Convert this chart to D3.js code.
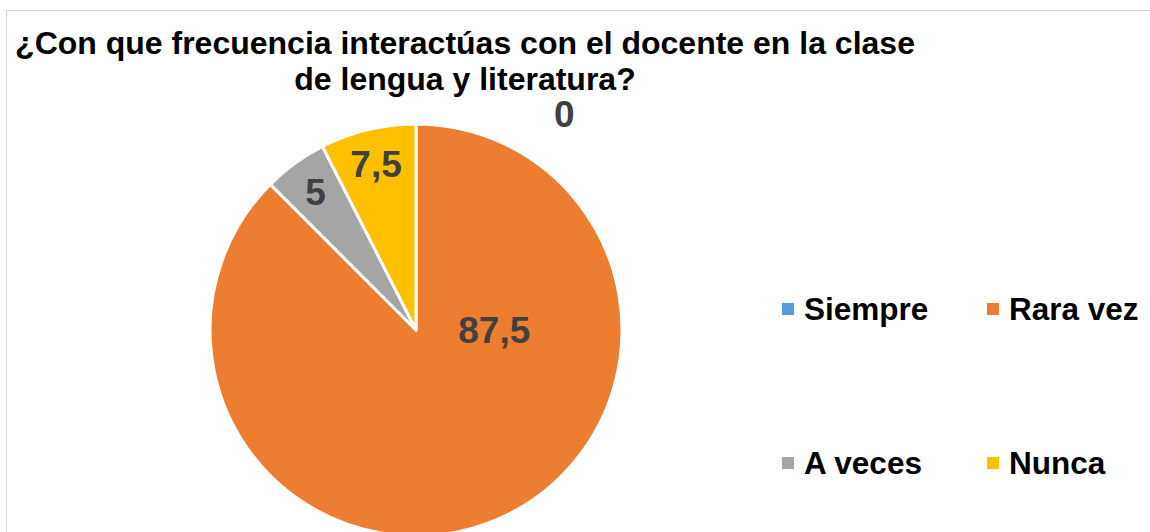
<!DOCTYPE html>
<html>
<head>
<meta charset="utf-8">
<script src="https://cdn.jsdelivr.net/npm/d3@7"></script>
<style>
  body { margin: 0; background: #fff; }
  svg { display: block; font-family: "Liberation Sans", Arial, sans-serif; }
</style>
</head>
<body>
<div id="chart"></div>
<script>
// datos del gráfico
const categorias = ["Siempre", "Rara vez", "A veces", "Nunca"];
const valores = [0, 87.5, 5, 7.5];
const colores = ["#5b9bd5", "#ed7d31", "#a5a5a5", "#ffc000"];
const tituloLineas = ["¿Con que frecuencia interactúas con el docente en la clase", "de lengua y literatura?"];

const width = 1150, height = 532;
const cx = 416, cy = 330, radius = 206;

const svg = d3.select("#chart")
  .append("svg")
  .attr("width", width)
  .attr("height", height);

// marco del área del gráfico
svg.append("rect")
  .attr("x", 6.5).attr("y", 10.5)
  .attr("width", 1200).attr("height", 600)
  .attr("fill", "none")
  .attr("stroke", "#d9d9d9")
  .attr("stroke-width", 1);

// título
svg.append("g").selectAll("text")
  .data(tituloLineas)
  .join("text")
  .attr("x", 465)
  .attr("y", (d, i) => 54 + i * 36)
  .attr("text-anchor", "middle")
  .attr("font-weight", "bold")
  .attr("font-size", "32px")
  .attr("fill", "#000")
  .text(d => d);

const datos = categorias.map((c, i) => ({ cat: c, val: valores[i] }));

const pie = d3.pie().sort(null).value(d => d.val);
const arcs = pie(datos);

const arc = d3.arc().innerRadius(0).outerRadius(radius);

const g = svg.append("g").attr("transform", `translate(${cx},${cy})`);

g.selectAll("path")
  .data(arcs)
  .join("path")
  .attr("d", arc)
  .attr("fill", (d, i) => colores[i])
  .attr("stroke", "#fff")
  .attr("stroke-width", 3)
  .attr("stroke-linejoin", "round");

// etiquetas de valores
const fmt = v => String(v).replace(".", ",");
const labelArc = d3.arc().innerRadius(radius * 0.83).outerRadius(radius * 0.83);

g.selectAll("text.val")
  .data(arcs)
  .join("text")
  .attr("class", "val")
  .attr("text-anchor", "middle")
  .attr("font-weight", "bold")
  .attr("font-size", "37px")
  .attr("fill", "#404040")
  .attr("transform", d => {
    if (d.data.val === 0) {
      // etiqueta fuera del sector vacío
      return `translate(${radius * 0.72},${-radius * 0.985})`;
    }
    if (d.data.val > 50) {
      return `translate(${radius * 0.38},13)`;
    }
    const [x, y] = labelArc.centroid(d);
    return `translate(${x},${y + 13})`;
  })
  .text(d => fmt(d.data.val));

// leyenda
const legX = [782, 987], legY = [303, 457];
const leg = svg.append("g").selectAll("g")
  .data(categorias)
  .join("g")
  .attr("transform", (d, i) => `translate(${legX[i % 2]},${legY[Math.floor(i / 2)]})`);

leg.append("rect")
  .attr("width", 12).attr("height", 12)
  .attr("fill", (d, i) => colores[i]);

leg.append("text")
  .attr("x", 22)
  .attr("y", 17)
  .attr("font-weight", "bold")
  .attr("font-size", "31.5px")
  .attr("fill", "#000")
  .text(d => d);
</script>
</body>
</html>
